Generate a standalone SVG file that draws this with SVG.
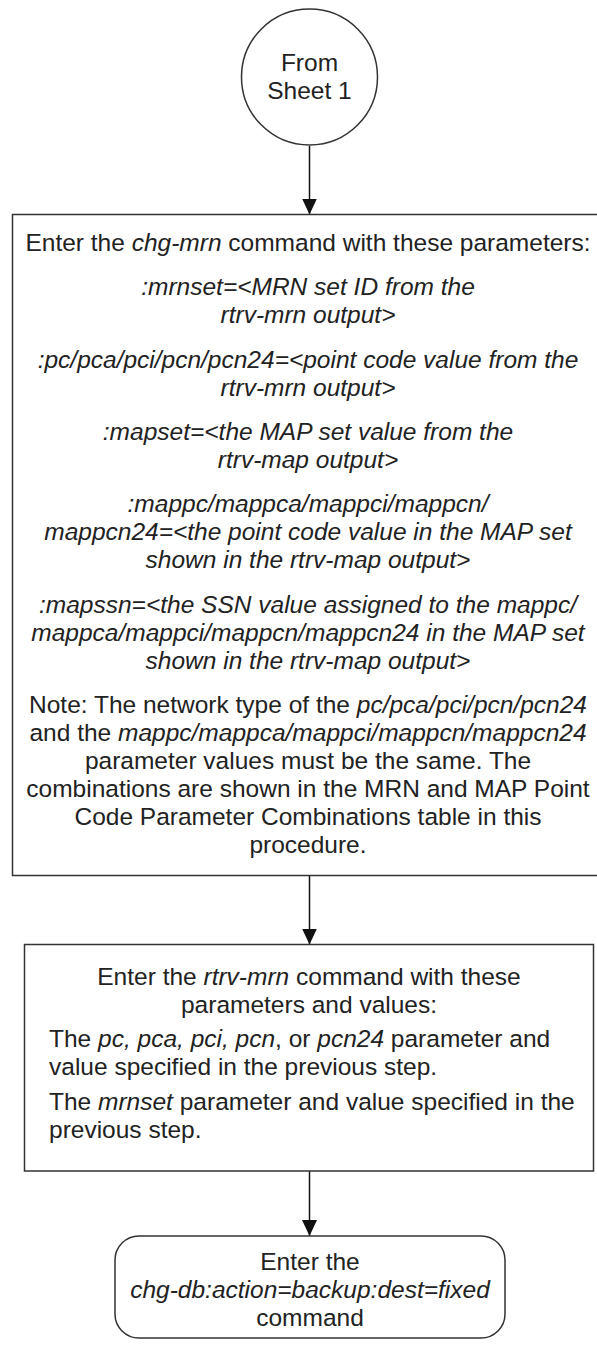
<svg xmlns="http://www.w3.org/2000/svg" width="597" height="1347" viewBox="0 0 597 1347">
<defs>
<style>
.t{font-family:"Liberation Sans",Arial,sans-serif;font-size:24.5px;fill:#222}
.c{text-anchor:middle}
.i{font-style:italic}
.shape{fill:#fff;stroke:#333;stroke-width:1.5}
.conn{fill:none;stroke:#111;stroke-width:1.5;marker-end:url(#ah)}
</style>
<marker id="ah" markerUnits="userSpaceOnUse" markerWidth="16" markerHeight="16" viewBox="0 0 16 16" refX="16" refY="8" orient="auto">
<path d="M0,0.5 L16,8 L0,15.5 z" fill="#111"/>
</marker>
</defs>
<rect width="597" height="1347" fill="#fff"/>
<g id="connectors">
<path class="conn" d="M309.5,146 L309.5,214.5"/>
<path class="conn" d="M309.5,876 L309.5,944.5"/>
<path class="conn" d="M309.5,1171 L309.5,1236"/>
</g>
<g id="start">
<circle class="shape" cx="309.5" cy="77" r="68"/>
<text class="t c" x="309.5" y="71">From</text>
<text class="t c" x="309.5" y="99">Sheet 1</text>
</g>
<g id="chg-mrn">
<rect class="shape" x="12.5" y="214.5" width="591" height="661"/>
<text class="t c" x="308" y="251">Enter the <tspan class="i">chg-mrn</tspan> command with these parameters:</text>
<text class="t c i" x="308" y="295">:mrnset=&lt;MRN set ID from the</text>
<text class="t c i" x="308" y="323">rtrv-mrn output&gt;</text>
<text class="t c i" x="308" y="367.5">:pc/pca/pci/pcn/pcn24=&lt;point code value from the</text>
<text class="t c i" x="308" y="395.5">rtrv-mrn output&gt;</text>
<text class="t c i" x="308" y="440">:mapset=&lt;the MAP set value from the</text>
<text class="t c i" x="308" y="468">rtrv-map output&gt;</text>
<text class="t c i" x="308" y="512">:mappc/mappca/mappci/mappcn/</text>
<text class="t c i" x="308" y="540">mappcn24=&lt;the point code value in the MAP set</text>
<text class="t c i" x="308" y="568">shown in the rtrv-map output&gt;</text>
<text class="t c i" x="308" y="612.5">:mapssn=&lt;the SSN value assigned to the mappc/</text>
<text class="t c i" x="308" y="640.5">mappca/mappci/mappcn/mappcn24 in the MAP set</text>
<text class="t c i" x="308" y="668.5">shown in the rtrv-map output&gt;</text>
<text class="t c" x="308" y="713">Note: The network type of the <tspan class="i">pc/pca/pci/pcn/pcn24</tspan></text>
<text class="t c" x="308" y="741">and the <tspan class="i">mappc/mappca/mappci/mappcn/mappcn24</tspan></text>
<text class="t c" x="308" y="769">parameter values must be the same. The</text>
<text class="t c" x="308" y="797">combinations are shown in the MRN and MAP Point</text>
<text class="t c" x="308" y="825">Code Parameter Combinations table in this</text>
<text class="t c" x="308" y="853">procedure.</text>
</g>
<g id="rtrv-mrn">
<rect class="shape" x="24.5" y="944.5" width="569" height="226.5"/>
<text class="t c" x="309" y="985">Enter the <tspan class="i">rtrv-mrn</tspan> command with these</text>
<text class="t c" x="309" y="1013">parameters and values:</text>
<text class="t" x="49" y="1047">The <tspan class="i">pc, pca, pci, pcn</tspan>, or <tspan class="i">pcn24</tspan> parameter and</text>
<text class="t" x="49" y="1075">value specified in the previous step.</text>
<text class="t" x="49" y="1110">The <tspan class="i">mrnset</tspan> parameter and value specified in the</text>
<text class="t" x="49" y="1138">previous step.</text>
</g>
<g id="backup">
<rect class="shape" x="115" y="1236" width="390" height="102" rx="24" ry="24"/>
<text class="t c" x="310" y="1270">Enter the</text>
<text class="t c i" x="310" y="1298">chg-db:action=backup:dest=fixed</text>
<text class="t c" x="310" y="1326">command</text>
</g>
</svg>
